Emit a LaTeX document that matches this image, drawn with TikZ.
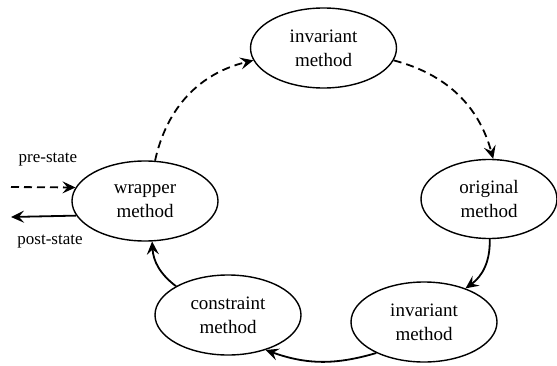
\documentclass[tikz,border=0pt]{standalone}
\usepackage{fontspec}
\setmainfont{Liberation Serif}
\usetikzlibrary{arrows.meta,shapes.geometric}
\begin{document}
\begin{tikzpicture}[x=1pt,y=1pt,
  meth/.style={draw,ellipse,line width=1.4pt,minimum width=146pt,minimum height=80pt,inner sep=0pt,align=center,font=\fontsize{19}{24}\selectfont},
  conn/.style={line width=1.8pt,-{Stealth[length=13pt,width=12pt,inset=5pt]}},
  dsh/.style={conn,dash pattern=on 8pt off 5pt},
  lbl/.style={font=\fontsize{17}{20}\selectfont,inner sep=0pt}]
\useasboundingbox (0,0) rectangle (557,365);
\node[meth] (inv1) at (323.5,317) {invariant\\method};
\node[meth,minimum width=136pt,minimum height=79pt] (orig) at (489,166) {original\\method};
\node[meth] (inv2) at (424,43) {invariant\\method};
\node[meth] (cons) at (228,50) {constraint\\method};
\node[meth] (wrap) at (145,164) {wrapper\\method};
\coordinate (pre) at (11,178);
\coordinate (post) at (11,148);
\node[lbl] (prel) at (48,205) {pre-state};
\node[lbl] (postl) at (50,123) {post-state};
\draw[dsh] (pre) -- (wrap.169);
\draw[conn] (wrap.192) -- (post);
\draw[dsh] (wrap.76) to[bend left=32] (inv1.190);
\draw[dsh] (inv1.350) to[bend left=30] (orig.84);
\draw[conn] (orig.271) to[bend left=28] (inv2.39);
\draw[conn] (inv2.213) to[bend left=18] (cons.317);
\draw[conn] (cons.151) to[bend left=25] (wrap.280);
\end{tikzpicture}
\end{document}
